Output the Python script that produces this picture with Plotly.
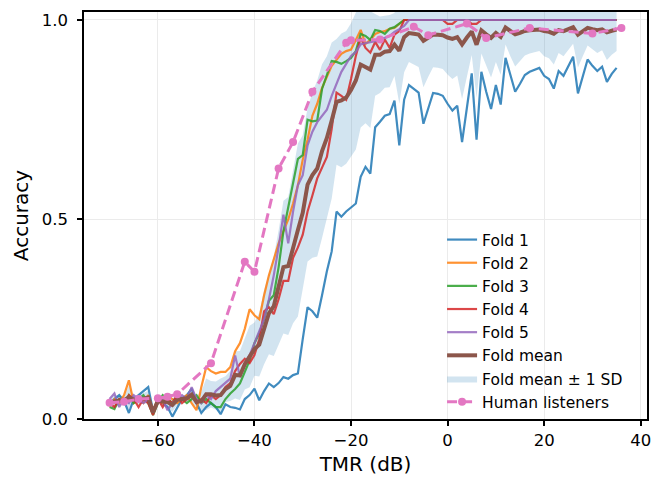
import numpy as np
import plotly.graph_objects as go

# ---------------- data ----------------
tmr = list(range(-70, 36))  # dB, 1 dB steps

fold1 = [0.04, 0.05, 0.06, 0.045, 0.015, 0.05, 0.06, 0.07, 0.08, 0.02,
         0.05, 0.04, 0.03, 0.006, 0.03, 0.05, 0.06, 0.076, 0.04, 0.015,
         0.03, 0.04, 0.03, 0.012,
         0.037, 0.03, 0.028, 0.024, 0.05, 0.06, 0.076, 0.047, 0.07, 0.089,
         0.08, 0.09, 0.105, 0.101, 0.11, 0.114,
         0.20, 0.28, 0.27, 0.254, 0.31, 0.37, 0.42, 0.52, 0.507, 0.52,
         0.53, 0.54, 0.607, 0.632, 0.615, 0.731, 0.745, 0.76, 0.764, 0.798,
         0.686, 0.80, 0.837, 0.828, 0.818, 0.74, 0.78, 0.817, 0.815, 0.81,
         0.79, 0.773, 0.785, 0.694, 0.78, 0.866, 0.70, 0.87, 0.82, 0.777,
         0.837, 0.788, 0.905, 0.86, 0.82, 0.84, 0.862, 0.87, 0.875, 0.88,
         0.86, 0.852, 0.828, 0.872, 0.86, 0.885, 0.908, 0.816, 0.86, 0.901,
         0.885, 0.872, 0.883, 0.845, 0.865, 0.88]

fold2 = [0.03, 0.05, 0.04, 0.06, 0.097, 0.04, 0.05, 0.04, 0.06, 0.02,
         0.05, 0.04, 0.06, 0.05, 0.04, 0.05, 0.06, 0.04, 0.022,
         0.08, 0.13, 0.12, 0.114, 0.118, 0.118, 0.13, 0.17, 0.19, 0.226,
         0.275, 0.26, 0.25, 0.31, 0.36, 0.40, 0.44, 0.47, 0.50, 0.54,
         0.586, 0.65, 0.70, 0.76, 0.79, 0.83, 0.86, 0.885, 0.90, 0.915,
         0.922, 0.926, 0.95, 0.975, 0.94, 0.95, 0.965, 0.97, 0.972, 0.978,
         0.98, 0.99, 1.0] + [1.0] * 44

fold3 = [0.03, 0.025, 0.05, 0.04, 0.06, 0.04, 0.05, 0.06, 0.04, 0.01,
         0.04, 0.06, 0.05, 0.04, 0.06, 0.05, 0.04, 0.05, 0.06, 0.04,
         0.05, 0.04, 0.03, 0.03,
         0.05, 0.064, 0.075, 0.089, 0.12, 0.147, 0.19, 0.215, 0.25, 0.296,
         0.31, 0.38, 0.47, 0.53, 0.59, 0.652, 0.661, 0.75, 0.746, 0.748,
         0.827, 0.86, 0.897, 0.895, 0.89, 0.897, 0.905, 0.922, 0.965, 0.96,
         0.95, 0.975, 0.972, 0.965, 0.978, 0.982, 0.99, 1.0] + [1.0] * 44

fold4 = [0.04, 0.03, 0.05, 0.04, 0.06, 0.05, 0.03, 0.05, 0.04, 0.01,
         0.05, 0.03, 0.05, 0.04, 0.06, 0.04, 0.05, 0.06, 0.04, 0.05,
         0.04, 0.06, 0.05, 0.06,
         0.08, 0.09, 0.12, 0.138, 0.151, 0.14, 0.16, 0.20, 0.27, 0.28,
         0.263, 0.30, 0.346, 0.346, 0.404, 0.43, 0.462, 0.52, 0.56, 0.603,
         0.63, 0.657, 0.727, 0.818, 0.81, 0.80, 0.852, 0.91, 0.955, 0.93,
         0.918, 0.945, 0.925, 0.951, 0.93, 0.963, 0.972, 1.0,
         1.0, 1.0, 1.0, 1.0, 1.0, 1.0, 1.0, 1.0, 0.99, 0.99,
         1.0, 1.0, 1.0, 0.99, 0.99, 1.0] + [1.0] * 28

fold5 = [0.05, 0.064, 0.03, 0.05, 0.04, 0.06, 0.05, 0.04, 0.05, 0.02,
         0.04, 0.05, 0.022, 0.04, 0.05, 0.06, 0.05, 0.08, 0.05, 0.04,
         0.06, 0.05, 0.07, 0.08,
         0.09, 0.101, 0.159, 0.105, 0.14, 0.16, 0.19, 0.22, 0.25, 0.30,
         0.36, 0.43, 0.512, 0.44, 0.52, 0.586, 0.611, 0.686, 0.72, 0.744,
         0.76, 0.775, 0.81, 0.84, 0.87, 0.89, 0.91, 0.92, 0.939, 0.942,
         0.945, 0.947, 0.952, 0.955, 0.96, 0.97, 0.977, 0.985, 1.0] + [1.0] * 43

human_tmr = [-70, -67, -64, -60, -58, -56, -49, -42, -40, -35, -32, -28,
             -21, -20, -14, -7, -4, 4, 8, 17, 30, 36]
human_acc = [0.041, 0.043, 0.05, 0.052, 0.056, 0.062, 0.14, 0.394, 0.369,
             0.628, 0.694, 0.82, 0.943, 0.949, 0.951, 0.983, 0.962, 0.991,
             0.955, 0.98, 0.966, 0.98]

fold_names = ["Fold 1", "Fold 2", "Fold 3", "Fold 4", "Fold 5"]
x_ticks = [-60, -40, -20, 0, 20, 40]
x_tick_text = ["\u221260", "\u221240", "\u221220", "0", "20", "40"]
y_ticks = [0.0, 0.5, 1.0]
y_tick_text = ["0.0", "0.5", "1.0"]

# ---------------- derived statistics ----------------
folds = np.array([fold1, fold2, fold3, fold4, fold5])
fold_mean = folds.mean(axis=0)
fold_sd = folds.std(axis=0, ddof=1)
upper = fold_mean + fold_sd
lower = fold_mean - fold_sd

colors = ["#1f77b4", "#ff7f0e", "#2ca02c", "#d62728", "#9467bd"]
FONT = "DejaVu Sans"

fig = go.Figure()

# SD band (drawn first, behind lines)
fig.add_trace(go.Scatter(
    x=tmr + tmr[::-1],
    y=list(upper) + list(lower[::-1]),
    fill="toself",
    fillcolor="rgba(31,119,180,0.2)",
    line=dict(width=0, color="rgba(31,119,180,0)"),
    mode="lines",
    name="Fold mean \u00b1 1 SD",
    legendrank=7,
    hoverinfo="skip",
))

for i, (name, ys) in enumerate(zip(fold_names, [fold1, fold2, fold3, fold4, fold5])):
    fig.add_trace(go.Scatter(
        x=tmr, y=ys, mode="lines", name=name,
        line=dict(color=colors[i], width=2.2),
        opacity=0.85,
        legendrank=i + 1,
    ))

fig.add_trace(go.Scatter(
    x=tmr, y=fold_mean, mode="lines", name="Fold mean",
    line=dict(color="#8c564b", width=4),
    legendrank=6,
))

fig.add_trace(go.Scatter(
    x=human_tmr, y=human_acc, mode="lines+markers", name="Human listeners",
    line=dict(color="#e377c2", width=3, dash="10px,5px"),
    marker=dict(color="#e377c2", size=8),
    legendrank=8,
))

axis_common = dict(
    showline=True, mirror=True, linecolor="black", linewidth=1.5,
    ticks="outside", ticklen=5, tickwidth=1.5, tickcolor="black",
    showgrid=True, gridcolor="#ebebeb", gridwidth=1,
    zeroline=False,
    tickfont=dict(family=FONT, size=16.5, color="black"),
)

# page body has an 8px margin: figure is sized/offset to compensate
fig.update_layout(
    width=652, height=473,
    margin=dict(l=76, r=13, t=2, b=62),
    paper_bgcolor="white", plot_bgcolor="white",
    font=dict(family=FONT, color="black"),
    xaxis=dict(
        range=[-75.3, 41.3], tickvals=x_ticks, ticktext=x_tick_text,
        title=dict(text="TMR (dB)", font=dict(family=FONT, size=20), standoff=8),
        **axis_common,
    ),
    yaxis=dict(
        range=[0, 1.02], tickvals=y_ticks, ticktext=y_tick_text,
        title=dict(text="Accuracy", font=dict(family=FONT, size=20), standoff=8),
        ticklabelstandoff=6,
        **axis_common,
    ),
    legend=dict(
        x=0.636, y=0.0, xanchor="left", yanchor="bottom",
        bgcolor="rgba(0,0,0,0)", borderwidth=0,
        font=dict(family=FONT, size=15.5, color="black"),
        tracegroupgap=0,
    ),
    showlegend=True,
)

fig.write_html("out.html")
